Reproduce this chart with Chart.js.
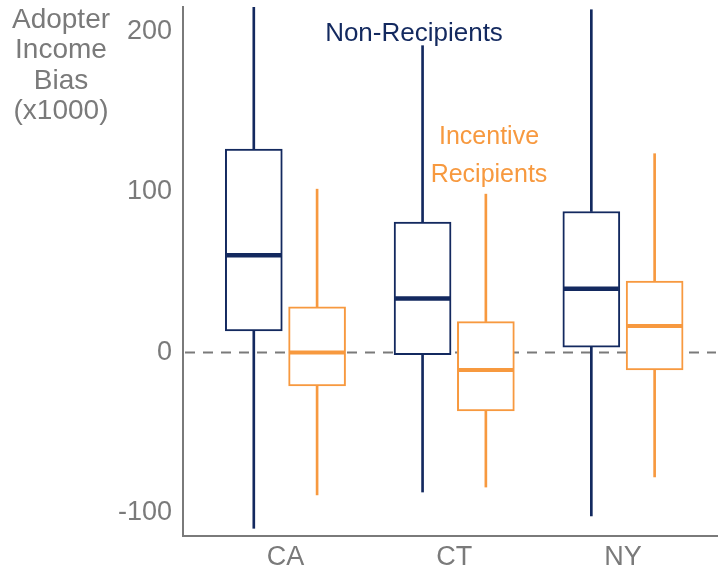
<!DOCTYPE html>
<html>
<head>
<meta charset="utf-8">
<script src="https://cdn.jsdelivr.net/npm/chart.js@4.4.1/dist/chart.umd.min.js"></script>
<style>
  html, body { margin: 0; padding: 0; background: #ffffff; }
  #wrap { width: 718px; height: 572px; position: relative; }
</style>
</head>
<body>
<div id="wrap"><canvas id="c"></canvas></div>
<script>
// States and y-axis ticks
const categories = ['CA', 'CT', 'NY'];
const yTicks = [-100, 0, 100, 200];

// Non-Recipients: whisker ends, quartiles and median (x1000)
const nonLow    = [-109.6, -87.0, -101.9];
const nonQ1     = [13.4, -1.4, 3.2];
const nonMedian = [60.6, 33.5, 39.6];
const nonQ3     = [126.7, 81.2, 87.8];
const nonHigh   = [232.0, 191.1, 213.5];

// Incentive Recipients
const recLow    = [-88.8, -83.9, -77.6];
const recQ1     = [-20.9, -36.5, -10.9];
const recMedian = [0.0, -10.9, 16.5];
const recQ3     = [28.4, 19.2, 44.4];
const recHigh   = [101.7, 98.6, 123.8];

const NAVY = '#13295f';
const ORANGE = '#f7993f';
const GRAY = '#7a7a7a';
const FONT = "'Liberation Sans', Arial, sans-serif";
const DODGE = 0.1875;
const BOX_PX = 57;

const series = [
  { name: 'Non-Recipients', color: NAVY, shift: -DODGE, low: nonLow, q1: nonQ1, med: nonMedian, q3: nonQ3, high: nonHigh, medWidth: 4.5 },
  { name: 'Incentive Recipients', color: ORANGE, shift: DODGE, low: recLow, q1: recQ1, med: recMedian, q3: recQ3, high: recHigh, medWidth: 4 }
];

const datasets = [];
series.forEach(s => {
  datasets.push({
    label: s.name + ' whiskers',
    data: categories.flatMap((c, i) => [
      { x: i + 1 + s.shift, y: [s.low[i], s.q1[i]] },
      { x: i + 1 + s.shift, y: [s.q3[i], s.high[i]] }
    ]),
    backgroundColor: s.color,
    borderWidth: 0,
    barThickness: 2,
    grouped: false
  });
  datasets.push({
    label: s.name,
    data: categories.map((c, i) => ({ x: i + 1 + s.shift, y: [s.q1[i], s.q3[i]] })),
    backgroundColor: '#ffffff',
    borderColor: s.color,
    borderWidth: 2,
    borderSkipped: false,
    barThickness: BOX_PX,
    grouped: false
  });
});

// Dashed reference line at zero, beneath the boxes
const zeroLine = {
  id: 'zeroLine',
  beforeDatasetsDraw(chart) {
    const { ctx, chartArea, scales } = chart;
    const y = scales.y.getPixelForValue(0);
    ctx.save();
    ctx.strokeStyle = GRAY;
    ctx.lineWidth = 2;
    ctx.setLineDash([10, 8]);
    ctx.beginPath();
    ctx.moveTo(chartArea.left + 2, y);
    ctx.lineTo(chartArea.right - 2, y);
    ctx.stroke();
    ctx.restore();
  }
};

// Median bars across each box, plus text labels
const extras = {
  id: 'extras',
  afterDatasetsDraw(chart) {
    const { ctx, scales } = chart;
    ctx.save();
    series.forEach(s => {
      categories.forEach((c, i) => {
        const xc = scales.x.getPixelForValue(i + 1 + s.shift);
        const y = scales.y.getPixelForValue(s.med[i]);
        ctx.strokeStyle = s.color;
        ctx.lineWidth = s.medWidth;
        ctx.beginPath();
        ctx.moveTo(xc - BOX_PX / 2 + 1, y);
        ctx.lineTo(xc + BOX_PX / 2 - 1, y);
        ctx.stroke();
      });
    });
    ctx.restore();
  },
  afterDraw(chart) {
    const { ctx } = chart;
    ctx.save();
    ctx.textAlign = 'center';
    ctx.textBaseline = 'alphabetic';
    ctx.fillStyle = GRAY;
    ctx.font = '28px ' + FONT;
    ['Adopter', 'Income', 'Bias', '(x1000)'].forEach((t, k) => {
      ctx.fillText(t, 61, 27.5 + k * 30.5);
    });
    ctx.fillStyle = NAVY;
    ctx.font = '26px ' + FONT;
    ctx.fillText('Non-Recipients', 414, 40.5);
    ctx.fillStyle = ORANGE;
    ctx.font = '25px ' + FONT;
    ctx.fillText('Incentive', 489, 143.5);
    ctx.fillText('Recipients', 489, 181.5);
    ctx.restore();
  }
};

new Chart(document.getElementById('c'), {
  type: 'bar',
  data: { datasets },
  options: {
    responsive: true,
    maintainAspectRatio: false,
    animation: false,
    events: [],
    layout: { padding: { top: 7, left: 0, right: 0, bottom: 0 } },
    plugins: { legend: { display: false }, tooltip: { enabled: false } },
    scales: {
      x: {
        type: 'linear',
        offset: false,
        min: 0.393,
        max: 3.563,
        afterBuildTicks(scale) { scale.ticks = categories.map((c, i) => ({ value: i + 1 })); },
        afterFit(scale) {
          scale.height = 36;
          scale.paddingLeft = 0;
          scale.paddingRight = 0;
        },
        grid: { display: false, drawTicks: false, offset: false },
        border: { display: true, color: GRAY, width: 2 },
        ticks: {
          padding: 5,
          color: GRAY,
          font: { family: FONT, size: 27 },
          autoSkip: false,
          maxRotation: 0,
          callback: v => categories[v - 1]
        }
      },
      y: {
        type: 'linear',
        min: -114.4,
        max: 215.2,
        afterBuildTicks(scale) { scale.ticks = yTicks.map(v => ({ value: v })); },
        afterFit(scale) {
          scale.width = 183;
          scale.paddingTop = 0;
          scale.paddingBottom = 0;
        },
        grid: { display: false, drawTicks: false },
        border: { display: true, color: GRAY, width: 2 },
        ticks: {
          padding: 11,
          color: GRAY,
          font: { family: FONT, size: 27 }
        }
      }
    }
  },
  plugins: [zeroLine, extras]
});
</script>
</body>
</html>
